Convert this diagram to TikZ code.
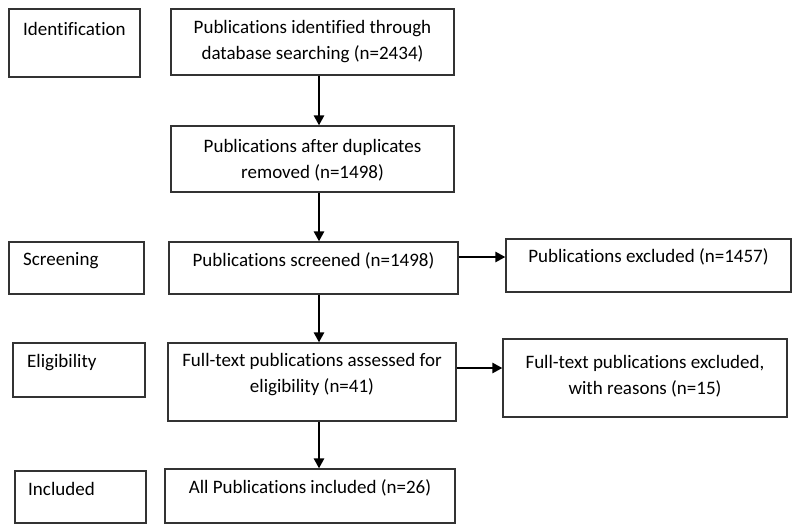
\documentclass[tikz,border=0pt]{standalone}
\usepackage{fontspec}
\setmainfont{Carlito}[RawFeature={-liga}]
\usetikzlibrary{arrows.meta}
\begin{document}
\begin{tikzpicture}[x=1pt,y=-1pt,
  box/.style={draw=black!80, line width=1.2pt, inner sep=0pt, rectangle},
  txt/.style={inner sep=0pt, align=center, font=\fontsize{19}{26}\selectfont},
  ltxt/.style={inner sep=0pt, anchor=west, font=\fontsize{19}{26}\selectfont},
  arr/.style={line width=2.6pt, -{Triangle[length=10pt,width=10pt]}}]
\useasboundingbox (0,0) rectangle (800,532);
% boxes
\node[box, minimum width=131pt, minimum height=68pt] (ident) at (74.5,43) {};
\node[box, minimum width=283pt, minimum height=66pt] (b1) at (312.5,42) {};
\node[box, minimum width=283pt, minimum height=66pt] (b2) at (312.5,159) {};
\node[box, minimum width=135pt, minimum height=52pt] (scr) at (76.5,268) {};
\node[box, minimum width=289pt, minimum height=52pt] (b3) at (313.5,268) {};
\node[box, minimum width=285pt, minimum height=53pt] (excl) at (648.5,265.5) {};
\node[box, minimum width=132pt, minimum height=54pt] (elig) at (79,370) {};
\node[box, minimum width=288pt, minimum height=78pt] (b4) at (312,382) {};
\node[box, minimum width=284pt, minimum height=78pt] (ftex) at (645,378) {};
\node[box, minimum width=131pt, minimum height=52pt] (incl) at (80.5,497) {};
\node[box, minimum width=290pt, minimum height=54pt] (b5) at (310,496) {};
% texts
\node[ltxt] (tident) at (23,29) {Identification};
\node[txt] (t1) at (312.5,42) {Publications identified through\\database searching (n=2434)};
\node[txt] (t2) at (312.5,160) {Publications after duplicates\\removed (n=1498)};
\node[ltxt] (tscr) at (23,261) {Screening};
\node[txt] (t3) at (313.5,261) {Publications screened (n=1498)};
\node[txt] (texcl) at (648.5,257) {Publications excluded (n=1457)};
\node[ltxt] (telig) at (27,363) {Eligibility};
\node[txt] (t4) at (312,375) {Full-text publications assessed for\\eligibility (n=41)};
\node[txt] (tftex) at (645,376) {Full-text publications excluded,\\with reasons (n=15)};
\node[ltxt] (tincl) at (28,489) {Included};
\node[txt] (t5) at (310,488) {All Publications included (n=26)};
% arrow guides
\coordinate (ax) at (319,0);
\coordinate (ay1) at (0,257);
\coordinate (ay2) at (0,368);
% arrows
\draw[arr] (b1.south -| ax) -- (b2.north -| ax);
\draw[arr] (b2.south -| ax) -- (b3.north -| ax);
\draw[arr] (b3.south -| ax) -- (b4.north -| ax);
\draw[arr] (b4.south -| ax) -- (b5.north -| ax);
\draw[arr] (b3.east |- ay1) -- (excl.west |- ay1);
\draw[arr] (b4.east |- ay2) -- (ftex.west |- ay2);
\end{tikzpicture}
\end{document}
